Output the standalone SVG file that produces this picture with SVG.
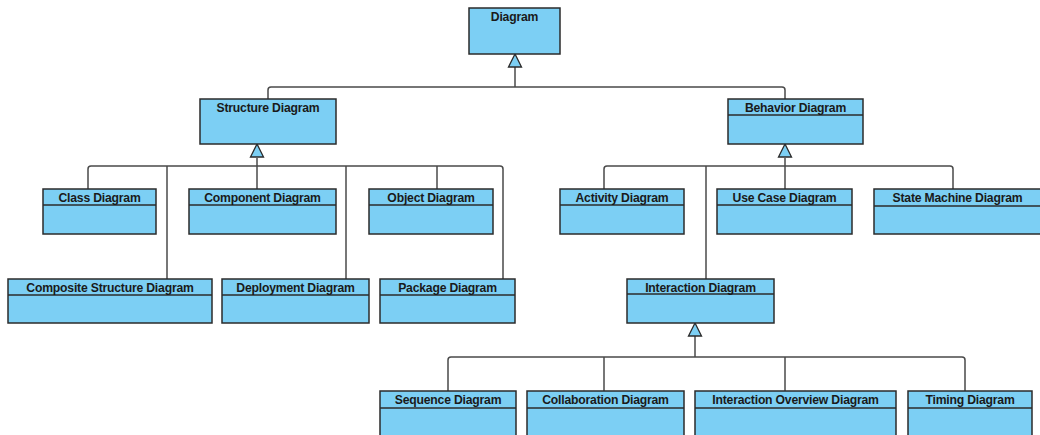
<svg xmlns="http://www.w3.org/2000/svg" width="1040" height="435" viewBox="0 0 1040 435">
  <style>
    .box { fill: #7ccff4; stroke: #2b2b2b; stroke-width: 1.5; }
    .div { stroke: #2b2b2b; stroke-width: 1.3; }
    .lbl { font-family: "Liberation Sans", Arial, sans-serif; font-weight: bold; font-size: 12.2px; fill: #1a1a1a; text-anchor: middle; letter-spacing: -0.2px; }
    .conn { fill: none; stroke: #4a4a4a; stroke-width: 1.5; }
    .tri { fill: #7ccff4; stroke: #2b2b2b; stroke-width: 1.3; stroke-linejoin: miter; }
  </style>
  <rect width="1040" height="435" fill="#ffffff"/>

  <!-- generalization connectors -->
  <g id="connectors">
    <!-- Diagram -> Structure / Behavior -->
    <path class="conn" d="M515,67 V87"/>
    <path class="conn" d="M268,99 V90 Q268,87 271,87 H782 Q785,87 785,90 V99"/>
    <polygon class="tri" points="515,54 508.5,67 521.5,67"/>

    <!-- Structure Diagram subtypes -->
    <path class="conn" d="M257,158 V189"/>
    <path class="conn" d="M88,189 V169 Q88,166 91,166 H500 Q503,166 503,169 V279"/>
    <path class="conn" d="M167,166 V279"/>
    <path class="conn" d="M346,166 V279"/>
    <path class="conn" d="M437,166 V189"/>
    <polygon class="tri" points="257,144 250.5,157 263.5,157"/>

    <!-- Behavior Diagram subtypes -->
    <path class="conn" d="M785,158 V189"/>
    <path class="conn" d="M604,189 V169 Q604,166 607,166 H950 Q953,166 953,169 V189"/>
    <path class="conn" d="M706,166 V279"/>
    <polygon class="tri" points="785,144 778.5,157 791.5,157"/>

    <!-- Interaction Diagram subtypes -->
    <path class="conn" d="M695,336 V357"/>
    <path class="conn" d="M448,391 V360 Q448,357 451,357 H962 Q965,357 965,360 V391"/>
    <path class="conn" d="M604,357 V391"/>
    <path class="conn" d="M785,357 V391"/>
    <polygon class="tri" points="695,323 688.5,336 701.5,336"/>
  </g>

  <!-- top level -->
  <g id="diagram">
    <rect class="box" x="469" y="8" width="91" height="46"/>
    <text class="lbl" x="514.5" y="21">Diagram</text>
  </g>

  <g id="structure-diagram">
    <rect class="box" x="200" y="99" width="136" height="45"/>
    <text class="lbl" x="268" y="112">Structure Diagram</text>
  </g>

  <g id="behavior-diagram">
    <rect class="box" x="728" y="99" width="135" height="45"/>
    <line class="div" x1="728" y1="115" x2="863" y2="115"/>
    <text class="lbl" x="795.5" y="112">Behavior Diagram</text>
  </g>

  <!-- structure diagrams -->
  <g id="class-diagram">
    <rect class="box" x="43" y="189" width="113" height="45"/>
    <line class="div" x1="43" y1="205" x2="156" y2="205"/>
    <text class="lbl" x="99.5" y="202">Class Diagram</text>
  </g>

  <g id="component-diagram">
    <rect class="box" x="189" y="189" width="147" height="45"/>
    <line class="div" x1="189" y1="205" x2="336" y2="205"/>
    <text class="lbl" x="262.5" y="202">Component Diagram</text>
  </g>

  <g id="object-diagram">
    <rect class="box" x="369" y="189" width="124" height="45"/>
    <line class="div" x1="369" y1="205" x2="493" y2="205"/>
    <text class="lbl" x="431" y="202">Object Diagram</text>
  </g>

  <g id="composite-structure-diagram">
    <rect class="box" x="8" y="279" width="204" height="44"/>
    <line class="div" x1="8" y1="295" x2="212" y2="295"/>
    <text class="lbl" x="110" y="292">Composite Structure Diagram</text>
  </g>

  <g id="deployment-diagram">
    <rect class="box" x="222" y="279" width="147" height="44"/>
    <line class="div" x1="222" y1="295" x2="369" y2="295"/>
    <text class="lbl" x="295.5" y="292">Deployment Diagram</text>
  </g>

  <g id="package-diagram">
    <rect class="box" x="380" y="279" width="135" height="44"/>
    <line class="div" x1="380" y1="295" x2="515" y2="295"/>
    <text class="lbl" x="447.5" y="292">Package Diagram</text>
  </g>

  <!-- behavior diagrams -->
  <g id="activity-diagram">
    <rect class="box" x="560" y="189" width="124" height="45"/>
    <line class="div" x1="560" y1="205" x2="684" y2="205"/>
    <text class="lbl" x="622" y="202">Activity Diagram</text>
  </g>

  <g id="use-case-diagram">
    <rect class="box" x="717" y="189" width="135" height="45"/>
    <line class="div" x1="717" y1="205" x2="852" y2="205"/>
    <text class="lbl" x="784.5" y="202">Use Case Diagram</text>
  </g>

  <g id="state-machine-diagram">
    <rect class="box" x="874" y="189" width="167" height="45"/>
    <line class="div" x1="874" y1="206" x2="1041" y2="206"/>
    <text class="lbl" x="957.5" y="202">State Machine Diagram</text>
  </g>

  <g id="interaction-diagram">
    <rect class="box" x="627" y="279" width="147" height="44"/>
    <line class="div" x1="627" y1="294" x2="774" y2="294"/>
    <text class="lbl" x="700.5" y="292">Interaction Diagram</text>
  </g>

  <!-- interaction diagrams -->
  <g id="sequence-diagram">
    <rect class="box" x="380" y="391" width="136" height="47"/>
    <line class="div" x1="380" y1="408" x2="516" y2="408"/>
    <text class="lbl" x="448" y="404">Sequence Diagram</text>
  </g>

  <g id="collaboration-diagram">
    <rect class="box" x="527" y="391" width="157" height="47"/>
    <line class="div" x1="527" y1="408" x2="684" y2="408"/>
    <text class="lbl" x="605.5" y="404">Collaboration Diagram</text>
  </g>

  <g id="interaction-overview-diagram">
    <rect class="box" x="695" y="391" width="201" height="47"/>
    <line class="div" x1="695" y1="408" x2="896" y2="408"/>
    <text class="lbl" x="795.5" y="404">Interaction Overview Diagram</text>
  </g>

  <g id="timing-diagram">
    <rect class="box" x="908" y="391" width="124" height="47"/>
    <line class="div" x1="908" y1="408" x2="1032" y2="408"/>
    <text class="lbl" x="970" y="404">Timing Diagram</text>
  </g>
</svg>
